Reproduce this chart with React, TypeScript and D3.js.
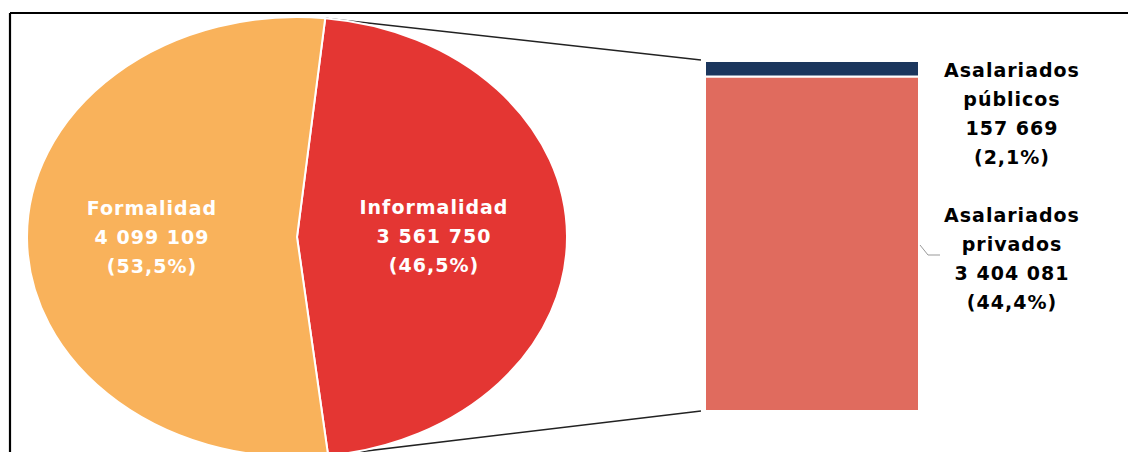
import React from "react";
import * as d3 from "d3";

const pieCategories = ["Informalidad", "Formalidad"];
const pieValues = [3561750, 4099109];
const pieValueLabels = ["3 561 750", "4 099 109"];
const piePctLabels = ["(46,5%)", "(53,5%)"];
const pieColors = ["#E43633", "#F9B25B"];

const barCategories = ["Asalariados privados", "Asalariados públicos"];
const barValues = [3404081, 157669];
const barLabelLines = [
  ["Asalariados", "privados", "3 404 081", "(44,4%)"],
  ["Asalariados", "públicos", "157 669", "(2,1%)"],
];
const barColors = ["#E06B5E", "#1B365D"];

const W = 1128;
const H = 452;
const cx = 297;
const cy = 237;
const rx = 270;
const ry = 220;
const startDeg = 6;

const barX0 = 705;
const barX1 = 919;
const barTop = 61;
const barBottom = 411;

export default function App() {
  const pie = d3
    .pie<number>()
    .sort(null)
    .value((d) => d)
    .startAngle((startDeg * Math.PI) / 180)
    .endAngle(((startDeg + 360) * Math.PI) / 180);
  const arcs = pie(pieValues);
  const arc = d3.arc<d3.PieArcDatum<number>>().innerRadius(0).outerRadius(rx);
  const labelArc = d3.arc<d3.PieArcDatum<number>>().innerRadius(141).outerRadius(141);

  const ptAt = (a: number) => [cx + rx * Math.sin(a), cy - ry * Math.cos(a)];
  const pStart = ptAt(arcs[0].startAngle);
  const pEnd = ptAt(arcs[0].endAngle);

  const total = d3.sum(barValues);
  const y = d3.scaleLinear().domain([0, total]).range([barBottom, barTop]);
  let acc = 0;
  const segs = barValues.map((v, i) => {
    const s = { y0: y(acc), y1: y(acc + v), i };
    acc += v;
    return s;
  });

  const labelFont = "'DejaVu Sans', sans-serif";
  const lineH = 29;
  const rightLabelCenters = [259, 114];

  return (
    <svg
      width={W}
      height={H}
      style={{ position: "absolute", left: 0, top: 0, background: "#fff" }}
    >
      <rect x={0} y={0} width={W} height={H} fill="#fff" />
      {/* border */}
      <line x1={10} y1={13} x2={W} y2={13} stroke="#000" strokeWidth={2.2} />
      <line x1={10} y1={13} x2={10} y2={H} stroke="#000" strokeWidth={2.2} />

      {/* connector lines */}
      <line x1={pStart[0]} y1={pStart[1]} x2={barX0 - 4} y2={barTop - 1} stroke="#222" strokeWidth={1.6} />
      <line x1={pEnd[0]} y1={pEnd[1]} x2={barX0 - 4} y2={barBottom} stroke="#222" strokeWidth={1.6} />

      {/* pie */}
      <g transform={`translate(${cx},${cy}) scale(1,${ry / rx})`}>
        {arcs.map((a, i) => (
          <path
            key={pieCategories[i]}
            d={arc(a) || ""}
            fill={pieColors[i]}
            stroke="#fff"
            strokeWidth={2}
            vectorEffect="non-scaling-stroke"
          />
        ))}
      </g>
      {arcs.map((a, i) => {
        const c = labelArc.centroid(a);
        const lx = cx + c[0] - 4;
        const ly = cy + c[1] * (ry / rx);
        const lines = [pieCategories[i], pieValueLabels[i], piePctLabels[i]];
        return (
          <text
            key={"pl" + i}
            x={lx}
            fill="#fff"
            fontFamily={labelFont}
            fontWeight="bold"
            fontSize={19}
            letterSpacing={1}
            textAnchor="middle"
          >
            {lines.map((t, j) => (
              <tspan key={j} x={lx} y={ly + (j - 1) * lineH} dy="0.35em">
                {t}
              </tspan>
            ))}
          </text>
        );
      })}

      {/* bar */}
      {segs.map((s) => (
        <rect
          key={barCategories[s.i]}
          x={barX0}
          y={s.y1}
          width={barX1 - barX0}
          height={s.y0 - s.y1}
          fill={barColors[s.i]}
          stroke="#fff"
          strokeWidth={2}
        />
      ))}

      {/* leader for privados */}
      <polyline points="920,245 928,255 940,255" fill="none" stroke="#999" strokeWidth={1} />

      {barLabelLines.map((lines, i) => (
        <text
          key={"bl" + i}
          fill="#000"
          fontFamily={labelFont}
          fontWeight="bold"
          fontSize={19}
          letterSpacing={1}
          textAnchor="middle"
        >
          {lines.map((t, j) => (
            <tspan key={j} x={1012} y={rightLabelCenters[i] + (j - 1.5) * lineH} dy="0.35em">
              {t}
            </tspan>
          ))}
        </text>
      ))}
    </svg>
  );
}
